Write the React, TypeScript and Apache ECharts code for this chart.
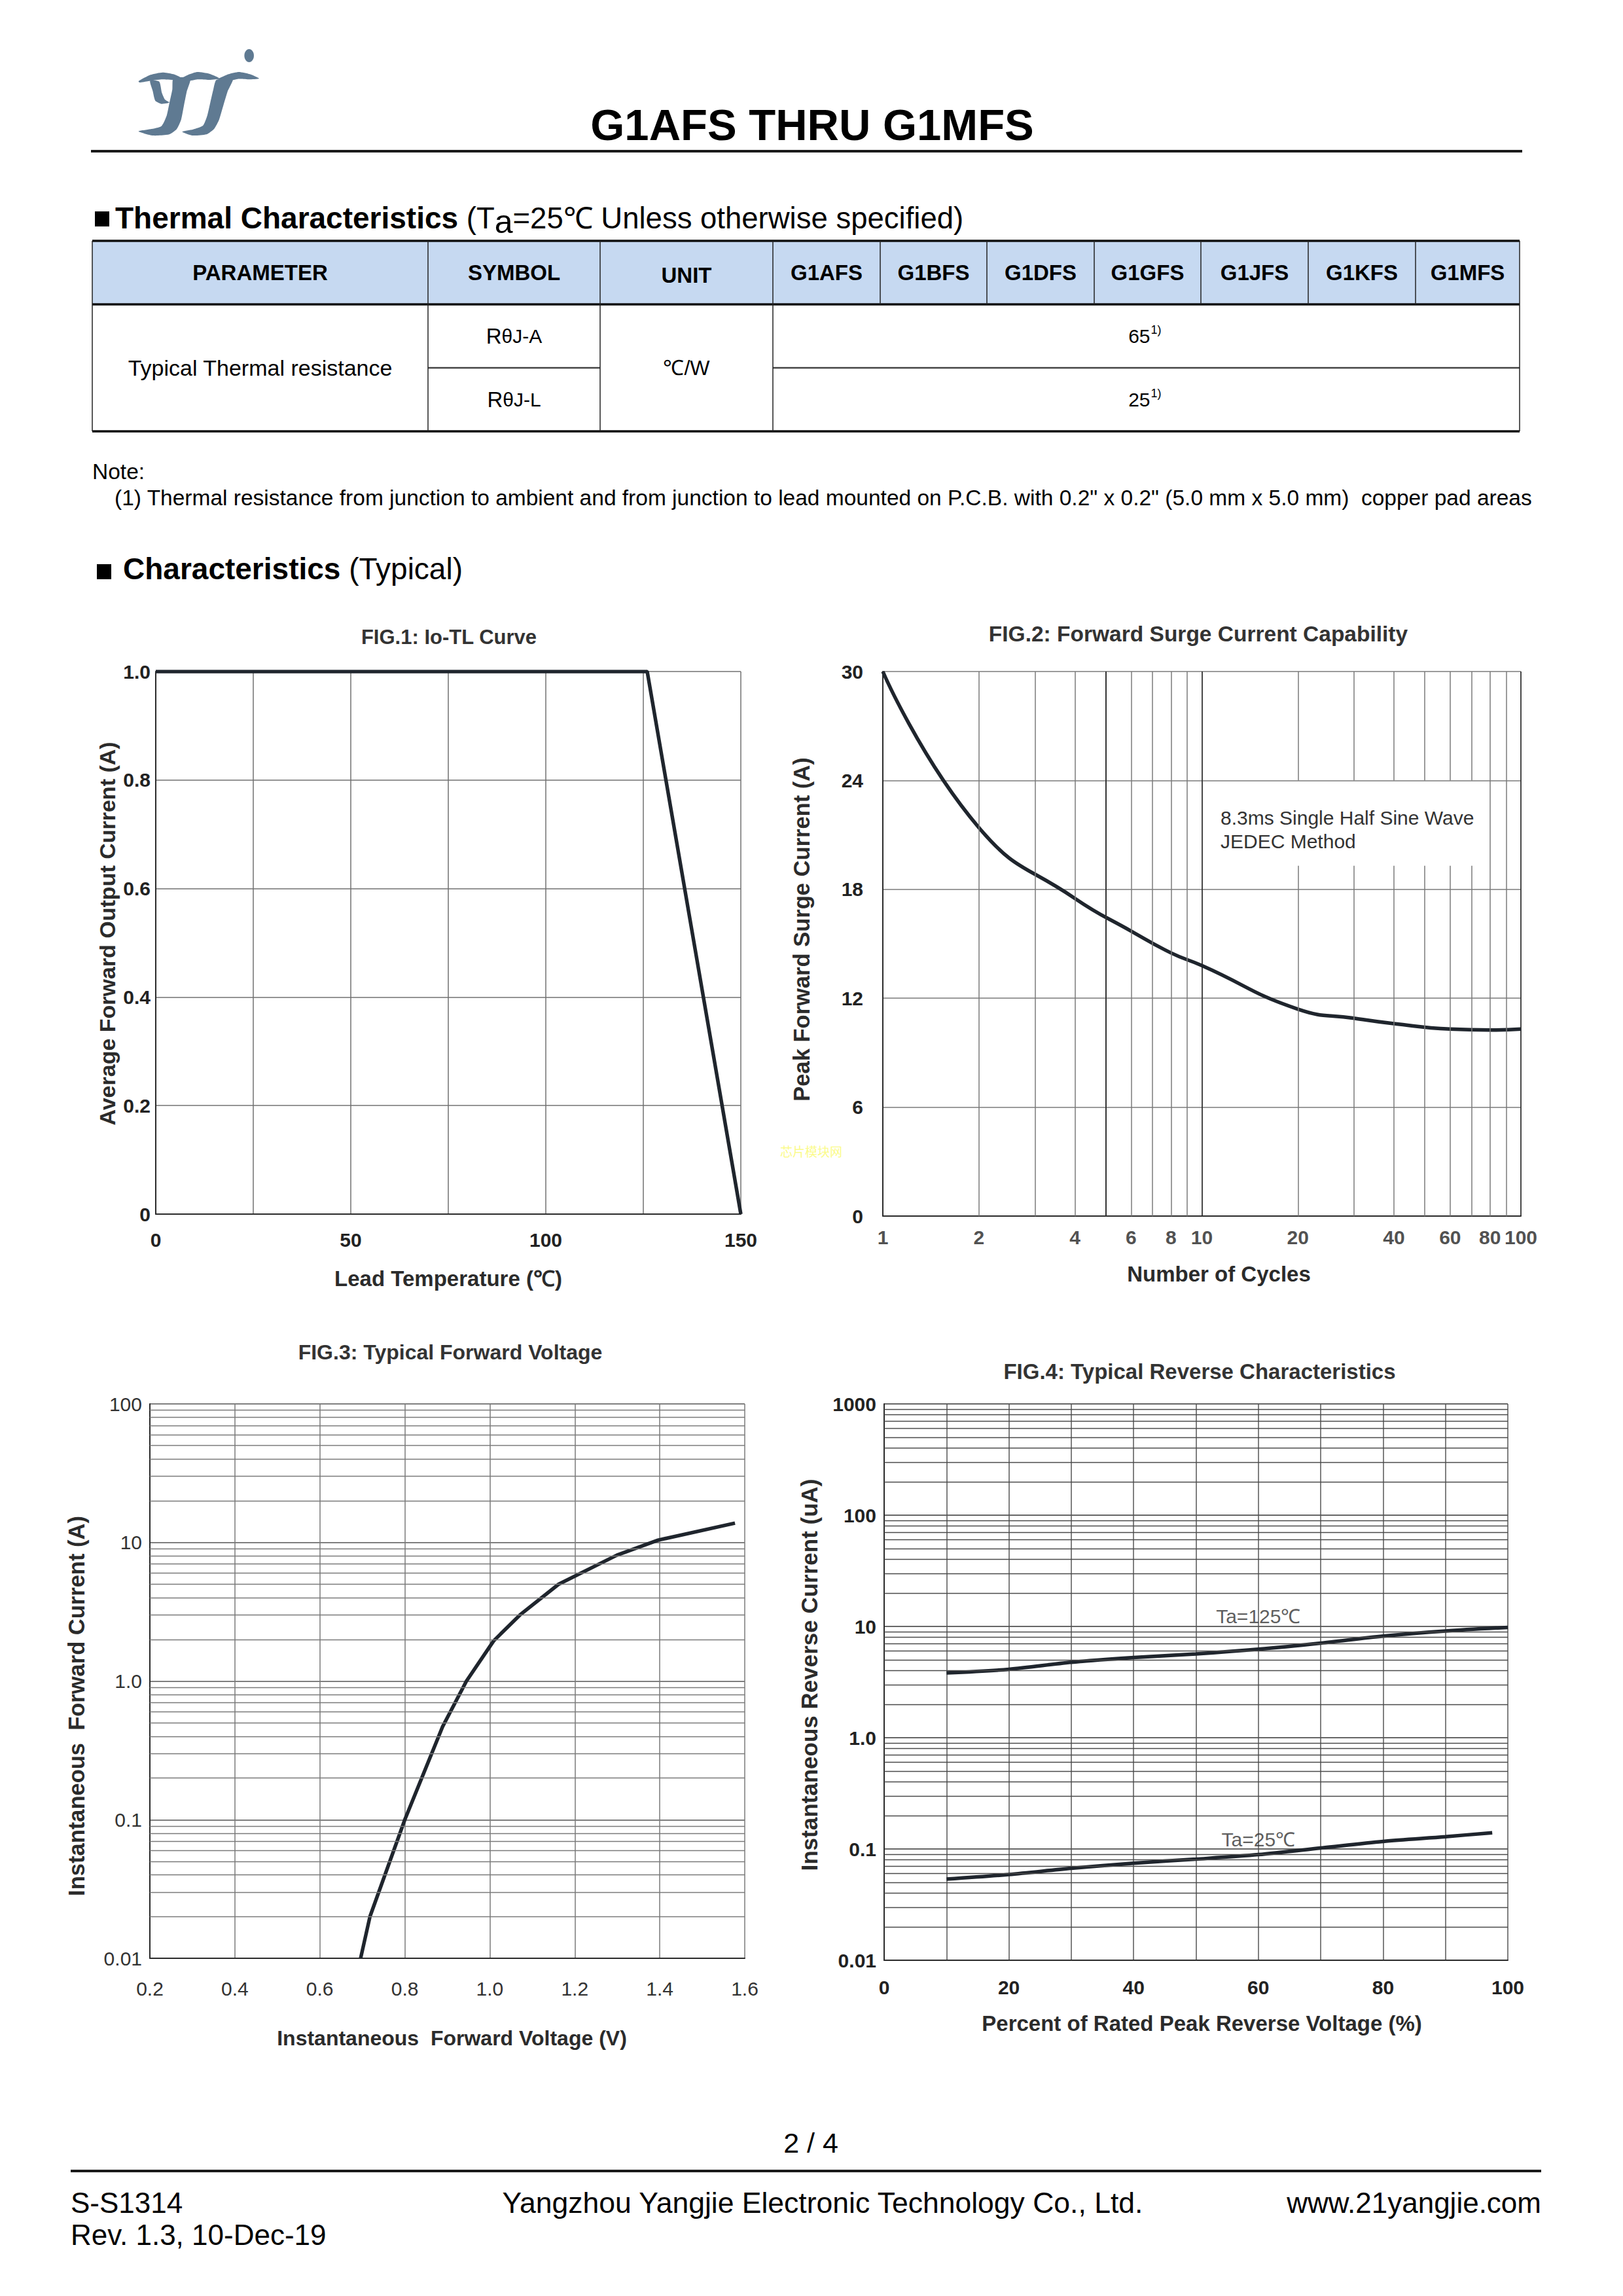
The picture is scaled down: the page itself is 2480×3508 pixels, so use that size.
import React, { useEffect, useRef } from 'react';
import * as echarts from 'echarts';

// ---------------- DATA ----------------
const tableModels = ['G1AFS', 'G1BFS', 'G1DFS', 'G1GFS', 'G1JFS', 'G1KFS', 'G1MFS'];
const tableHead = ['PARAMETER', 'SYMBOL', 'UNIT'];
const thermalValues = ['65', '25'];
const thermalSymbols = ['θJ-A', 'θJ-L'];

// FIG.1 Io-TL
const fig1Temp = [0, 126, 150];
const fig1Current = [1.0, 1.0, 0];

// FIG.2 surge
const fig2Cycles = [1, 2, 4, 6, 8, 10, 20, 30, 40, 60, 80, 100];
const fig2Current = [30, 21.4, 17.5, 15.7, 14.5, 13.8, 11.4, 10.9, 10.6, 10.3, 10.25, 10.3];
const fig2LabelX = [1, 2, 4, 6, 8, 10, 20, 40, 60, 80, 100];
const fig2MinorX = [2, 3, 4, 5, 6, 7, 8, 9, 20, 30, 40, 50, 60, 70, 80, 90];
const fig2BoxedX = [20, 30, 40, 50, 60, 70];
const fig2BoxY = [19.3, 24];

// FIG.3 forward voltage
const fig3Voltage = [0.696, 0.718, 0.8, 0.889, 0.945, 1.009, 1.071, 1.162, 1.299, 1.396, 1.577];
const fig3Current = [0.01, 0.02, 0.1, 0.47, 1.0, 1.95, 3.0, 5.0, 8.1, 10.4, 13.8];

// FIG.4 reverse
const fig4Percent125 = [10, 20, 30, 40, 50, 60, 70, 80, 90, 100];
const fig4Ir125 = [3.82, 4.12, 4.76, 5.25, 5.66, 6.24, 7.08, 8.18, 9.1, 9.8];
const fig4Percent25 = [10, 20, 30, 40, 50, 60, 70, 80, 90, 97.5];
const fig4Ir25 = [0.0536, 0.059, 0.067, 0.0745, 0.081, 0.089, 0.102, 0.117, 0.129, 0.14];
const fig4NoteX = [60, 60];
const fig4NoteY = [12.4, 0.122];
const fig4NoteText = ['Ta=125℃', 'Ta=25℃'];

const minorMultipliers = [2, 3, 4, 5, 6, 7, 8, 9];
const fig3Decades = [0.01, 0.1, 1, 10];
const fig4Decades = [0.01, 0.1, 1, 10, 100];

// ---------------- STYLE ----------------
const FONT = "'Liberation Sans', Arial, Helvetica, sans-serif";
const INK = '#1f252d';
const TXT = '#222';

function T(text: string, x: number, y: number, o: any = {}) {
  const align = o.align || 'left';
  const va = o.va || 'middle';
  const style: any = {
    text, x, y,
    fill: o.color || '#000',
    fontSize: o.size || 30,
    fontWeight: o.bold ? 'bold' : 'normal',
    fontFamily: o.family || FONT,
    textAlign: align, align,
    textVerticalAlign: va, verticalAlign: va,
  };
  if (o.rich) style.rich = o.rich;
  return { type: 'text', z: o.z ?? 10, silent: true, style };
}
function L(x1: number, y1: number, x2: number, y2: number, w = 1.5, c = '#222') {
  return { type: 'line', z: 10, silent: true, shape: { x1, y1, x2, y2 }, style: { stroke: c, lineWidth: w } };
}
const lp = (pts: number[][]) => pts.map(([dx, dy]) => [dx / 3 + 180, dy / 3 + 60]);
const LOGO = '#5f7a92';
function P(pts: number[][]) {
  return { type: 'polygon', z: 10, silent: true, shape: { points: lp(pts), smooth: 0.2 }, style: { fill: LOGO } };
}

const logoParts = [
  P([[95, 192], [150, 163], [205, 152], [255, 160], [296, 180], [255, 186], [200, 184], [140, 192], [100, 198]]),
  P([[288, 182], [330, 160], [365, 150], [420, 158], [468, 180], [420, 186], [365, 184], [320, 192]]),
  P([[462, 182], [508, 160], [555, 150], [605, 160], [648, 180], [600, 184], [550, 182], [500, 192]]),
  P([[255, 178], [332, 180], [316, 240], [302, 310], [290, 370], [270, 412], [236, 436], [160, 441], [95, 422], [150, 412], [200, 398], [224, 350], [237, 290], [250, 230]]),
  P([[452, 186], [528, 180], [503, 240], [482, 310], [464, 370], [442, 410], [406, 436], [340, 441], [295, 424], [345, 413], [390, 396], [410, 350], [424, 290], [438, 230]]),
  P([[148, 190], [190, 194], [202, 245], [216, 276], [236, 290], [200, 296], [172, 282], [160, 236]]),
  { type: 'ellipse', z: 10, silent: true, shape: { cx: 602 / 3 + 180, cy: 75 / 3 + 60, rx: 7.3, ry: 10 }, style: { fill: LOGO } },
];

// table geometry
const TX = [141, 654, 917, 1181, 1345, 1508, 1672, 1835, 1999, 2163, 2322];
const TY = [368, 465, 562, 659];

function tableGraphics() {
  const g: any[] = [];
  g.push({ type: 'rect', z: 5, silent: true, shape: { x: TX[0], y: TY[0], width: TX[10] - TX[0], height: TY[1] - TY[0] }, style: { fill: '#c6d9f1' } });
  g.push(L(TX[0], TY[0], TX[10], TY[0], 3.5, '#111'));
  g.push(L(TX[0], TY[1], TX[10], TY[1], 3.5, '#111'));
  g.push(L(TX[0], TY[3], TX[10], TY[3], 3.5, '#111'));
  g.push(L(TX[1], TY[2], TX[2], TY[2], 2.5, '#444'));
  g.push(L(TX[3], TY[2], TX[10], TY[2], 2.5, '#444'));
  [0, 1, 2, 3, 10].forEach((i) => g.push(L(TX[i], TY[0], TX[i], TY[3], 1.5, '#222')));
  for (let i = 4; i < 10; i++) g.push(L(TX[i], TY[0], TX[i], TY[1], 1.5, '#222'));
  const hy = (TY[0] + TY[1]) / 2;
  tableHead.forEach((h, i) => g.push(T(h, (TX[i] + TX[i + 1]) / 2, hy + (i === 2 ? 4 : 0), { align: 'center', bold: true, size: 33 })));
  tableModels.forEach((m, i) => g.push(T(m, (TX[i + 3] + TX[i + 4]) / 2, hy, { align: 'center', bold: true, size: 33 })));
  g.push(T('Typical Thermal resistance', (TX[0] + TX[1]) / 2, TY[2], { align: 'center', size: 34 }));
  g.push(T('℃/W', (TX[2] + TX[3]) / 2, TY[2], { align: 'center', size: 32 }));
  const rowC = [(TY[1] + TY[2]) / 2, (TY[2] + TY[3]) / 2];
  thermalSymbols.forEach((s, i) => g.push(T(`{r|R}{s|${s}}`, (TX[1] + TX[2]) / 2, rowC[i], {
    align: 'center', size: 32,
    rich: { r: { fontSize: 33, fontFamily: FONT, fill: '#000' }, s: { fontSize: 30, fontFamily: FONT, fill: '#000' } },
  })));
  const vc = (TX[3] + TX[10]) / 2;
  thermalValues.forEach((v, i) => {
    g.push(T(v, vc + 6, rowC[i], { align: 'right', size: 30 }));
    g.push(T('1)', vc + 7, rowC[i] - 10, { align: 'left', size: 18 }));
  });
  return g;
}

const nameStyle = (size: number, padding?: number[]) => {
  const s: any = { fontSize: size, fontWeight: 'bold', color: '#2b2b2b', fontFamily: FONT };
  if (padding) s.padding = padding;
  return s;
};
const tickBold = { fontSize: 30, fontWeight: 'bold', color: TXT, fontFamily: FONT };
const tickReg = { fontSize: 30, fontWeight: 'normal', color: '#333', fontFamily: FONT };
const axisLine = { show: true, lineStyle: { color: '#2a2a2a', width: 2 } };
const split = (c: string, w = 1.5) => ({ show: true, lineStyle: { color: c, width: w, type: 'solid' } });
const logFmt = (v: number) => {
  const n = Number(v.toPrecision(3));
  if (n === 1) return '1.0';
  return String(n);
};
const minorLines = (decades: number[]) =>
  decades.flatMap((d) => minorMultipliers.map((m) => ({ yAxis: Number((d * m).toPrecision(3)) })));

const NB = '\u00a0';

function buildOption() {
  const fig2VLines = fig2MinorX.flatMap((v) => {
    const st = v === 5 ? { lineStyle: { color: '#333', width: 2 } } : {};
    if (fig2BoxedX.includes(v)) {
      return [
        [{ coord: [v, 0], ...st }, { coord: [v, fig2BoxY[0]] }],
        [{ coord: [v, fig2BoxY[1]], ...st }, { coord: [v, 30] }],
      ];
    }
    return [{ xAxis: v, ...st }];
  });

  const mlBase = { silent: true, symbol: ['none', 'none'], label: { show: false }, animation: false };

  return {
    animation: false,
    backgroundColor: '#ffffff',
    grid: [
      { left: 238, top: 1026, width: 894, height: 829 },
      { left: 1349, top: 1026, width: 975, height: 832 },
      { left: 229, top: 2145, width: 909, height: 847 },
      { left: 1351, top: 2145, width: 953, height: 850 },
    ],
    xAxis: [
      {
        gridIndex: 0, type: 'value', min: 0, max: 150, interval: 25,
        axisLine, axisTick: { show: false },
        axisLabel: { ...tickBold, margin: 24, formatter: (v: number) => (v % 50 === 0 ? String(v) : '') },
        splitLine: split('#707070'),
        name: 'Lead Temperature (℃)', nameLocation: 'middle', nameGap: 82, nameTextStyle: nameStyle(33),
      },
      {
        gridIndex: 1, type: 'log', logBase: 10, min: 1, max: 100,
        axisLine, axisTick: { show: false }, axisLabel: { show: false },
        splitLine: split('#333', 1.8),
        name: 'Number of Cycles', nameLocation: 'middle', nameGap: 72, nameTextStyle: nameStyle(33, [0, 0, 0, 52]),
      },
      {
        gridIndex: 2, type: 'value', min: 0.2, max: 1.6, interval: 0.2,
        axisLine, axisTick: { show: false },
        axisLabel: { ...tickReg, margin: 31, formatter: (v: number) => v.toFixed(1) },
        splitLine: split('#7a7a7a'),
        name: `Instantaneous${NB} Forward Voltage (V)`, nameLocation: 'middle', nameGap: 106, nameTextStyle: nameStyle(32, [0, 0, 0, 14]),
      },
      {
        gridIndex: 3, type: 'value', min: 0, max: 100, interval: 10,
        axisLine, axisTick: { show: false },
        axisLabel: { ...tickBold, margin: 26, formatter: (v: number) => (v % 20 === 0 ? String(v) : '') },
        splitLine: split('#555'),
        name: 'Percent of Rated Peak Reverse Voltage (%)', nameLocation: 'middle', nameGap: 80, nameTextStyle: nameStyle(33, [0, 0, 0, 18]),
      },
    ],
    yAxis: [
      {
        gridIndex: 0, type: 'value', min: 0, max: 1, interval: 0.2,
        axisLine, axisTick: { show: false },
        axisLabel: { ...tickBold, margin: 8, formatter: (v: number) => (v === 0 ? '0' : v.toFixed(1)) },
        splitLine: split('#707070'),
        name: 'Average Forward Output Current (A)', nameLocation: 'middle', nameGap: 57, nameRotate: 90, nameTextStyle: nameStyle(34, [0, 0, 0, 28]),
      },
      {
        gridIndex: 1, type: 'value', min: 0, max: 30, interval: 6,
        axisLine, axisTick: { show: false },
        axisLabel: { ...tickBold, margin: 30 },
        splitLine: split('#7a7a7a'),
        name: 'Peak Forward Surge Current (A)', nameLocation: 'middle', nameGap: 107, nameRotate: 90, nameTextStyle: nameStyle(34.5, [0, 0, 0, 44]),
      },
      {
        gridIndex: 2, type: 'log', logBase: 10, min: 0.01, max: 100,
        axisLine, axisTick: { show: false },
        axisLabel: { ...tickReg, margin: 12, formatter: logFmt },
        splitLine: split('#555'),
        name: `Instantaneous${NB} Forward Current (A)`, nameLocation: 'middle', nameGap: 95, nameRotate: 90, nameTextStyle: nameStyle(34.5, [0, 76, 0, 0]),
      },
      {
        gridIndex: 3, type: 'log', logBase: 10, min: 0.01, max: 1000,
        axisLine, axisTick: { show: false },
        axisLabel: { ...tickBold, margin: 12, formatter: logFmt },
        splitLine: split('#333'),
        name: 'Instantaneous Reverse Current (uA)', nameLocation: 'middle', nameGap: 97, nameRotate: 90, nameTextStyle: nameStyle(35, [0, 0, 0, 22]),
      },
    ],
    series: [
      {
        type: 'line', xAxisIndex: 0, yAxisIndex: 0, z: 4, symbol: 'none',
        data: fig1Temp.map((t, i) => [t, fig1Current[i]]),
        lineStyle: { color: INK, width: 5.5 },
      },
      {
        type: 'line', xAxisIndex: 1, yAxisIndex: 1, z: 4, symbol: 'none', smooth: 0.5,
        data: fig2Cycles.map((c, i) => [c, fig2Current[i]]),
        lineStyle: { color: INK, width: 5.5 },
        markLine: { ...mlBase, lineStyle: { color: '#7a7a7a', width: 1.5, type: 'solid' }, data: fig2VLines },
      },
      {
        type: 'scatter', xAxisIndex: 1, yAxisIndex: 1, z: 4, silent: true, clip: false,
        symbolSize: 1, itemStyle: { color: 'rgba(0,0,0,0)' },
        data: fig2LabelX.map((v) => [v, 0]),
        label: { show: true, position: 'bottom', distance: 17, ...tickBold, formatter: (p: any) => String(p.value[0]) },
      },
      {
        type: 'line', xAxisIndex: 2, yAxisIndex: 2, z: 4, symbol: 'none',
        data: fig3Voltage.map((v, i) => [v, fig3Current[i]]),
        lineStyle: { color: INK, width: 5.5 },
        markLine: { ...mlBase, lineStyle: { color: '#7a7a7a', width: 1.3, type: 'solid' }, data: minorLines(fig3Decades) },
      },
      {
        type: 'line', xAxisIndex: 3, yAxisIndex: 3, z: 4, symbol: 'none', smooth: 0.3,
        data: fig4Percent125.map((v, i) => [v, fig4Ir125[i]]),
        lineStyle: { color: INK, width: 5.5 },
        markLine: { ...mlBase, lineStyle: { color: '#4a4a4a', width: 1.3, type: 'solid' }, data: minorLines(fig4Decades) },
      },
      {
        type: 'line', xAxisIndex: 3, yAxisIndex: 3, z: 4, symbol: 'none', smooth: 0.3,
        data: fig4Percent25.map((v, i) => [v, fig4Ir25[i]]),
        lineStyle: { color: INK, width: 5.5 },
      },
      {
        type: 'scatter', xAxisIndex: 3, yAxisIndex: 3, z: 5, silent: true, clip: false,
        symbolSize: 1, itemStyle: { color: 'rgba(0,0,0,0)' },
        data: fig4NoteX.map((x, i) => ({ name: fig4NoteText[i], value: [x, fig4NoteY[i]] })),
        label: { show: true, position: 'inside', formatter: '{b}', fontSize: 30, color: '#333', fontFamily: FONT },
      },
    ],
    graphic: {
      elements: [
        ...logoParts,
        T('G1AFS THRU G1MFS', 1241, 190, { align: 'center', bold: true, size: 67 }),
        L(139, 231, 2326, 231, 4, '#1a1a1a'),
        { type: 'rect', z: 10, silent: true, shape: { x: 145, y: 323, width: 22, height: 23 }, style: { fill: '#000' } },
        T('{b|Thermal Characteristics}{r| (T}{s|a}{r|=25℃ Unless otherwise specified)}', 176, 333, {
          size: 46,
          rich: {
            b: { fontSize: 46, fontWeight: 'bold', fontFamily: FONT, fill: '#000' },
            r: { fontSize: 45.5, fontFamily: FONT, fill: '#000' },
            s: { fontSize: 50, fontFamily: FONT, fill: '#000', padding: [12, 0, 0, 0] },
          },
        }),
        ...tableGraphics(),
        T('Note:', 141, 720, { size: 33.5 }),
        T('(1) Thermal resistance from junction to ambient and from junction to lead mounted on P.C.B. with 0.2" x 0.2" (5.0 mm x 5.0 mm)  copper pad areas', 175, 760, { size: 33.5 }),
        { type: 'rect', z: 10, silent: true, shape: { x: 148, y: 862, width: 22, height: 23 }, style: { fill: '#000' } },
        T('{b|Characteristics}{r| (Typical)}', 188, 869, {
          size: 46,
          rich: {
            b: { fontSize: 46, fontWeight: 'bold', fontFamily: FONT, fill: '#000' },
            r: { fontSize: 46, fontFamily: FONT, fill: '#000' },
          },
        }),
        T('FIG.1: Io-TL Curve', 686, 973, { align: 'center', bold: true, size: 31, color: '#333' }),
        T('FIG.2: Forward Surge Current Capability', 1831, 968, { align: 'center', bold: true, size: 33.5, color: '#333' }),
        T('FIG.3: Typical Forward Voltage', 688, 2066, { align: 'center', bold: true, size: 32, color: '#333' }),
        T('FIG.4: Typical Reverse Characteristics', 1833, 2095, { align: 'center', bold: true, size: 33, color: '#333' }),
        T('8.3ms Single Half Sine Wave', 1865, 1249, { size: 30, color: '#333' }),
        T('JEDEC Method', 1865, 1285, { size: 30, color: '#333' }),
        T('芯片模块网', 1192, 1758, { size: 19, color: '#fbfb8a', family: "'Noto Sans CJK SC', sans-serif" }),
        T('2 / 4', 1239, 3274, { align: 'center', size: 43 }),
        L(108, 3317, 2355, 3317, 4, '#1a1a1a'),
        T('S-S1314', 108, 3365, { size: 44 }),
        T('Rev. 1.3, 10-Dec-19', 108, 3414, { size: 44 }),
        T('Yangzhou Yangjie Electronic Technology Co., Ltd.', 1257, 3365, { align: 'center', size: 44.5 }),
        T('www.21yangjie.com', 2355, 3365, { align: 'right', size: 44 }),
      ],
    },
  };
}

export default function App() {
  const ref = useRef<HTMLDivElement>(null);
  useEffect(() => {
    if (!ref.current) return;
    const chart = echarts.init(ref.current, undefined, { renderer: 'svg', width: 2480, height: 3508 });
    chart.setOption(buildOption() as any);
    return () => chart.dispose();
  }, []);
  return (
    <div
      ref={ref}
      style={{ position: 'absolute', left: 0, top: 0, width: 2480, height: 3508, background: '#fff' }}
    />
  );
}
